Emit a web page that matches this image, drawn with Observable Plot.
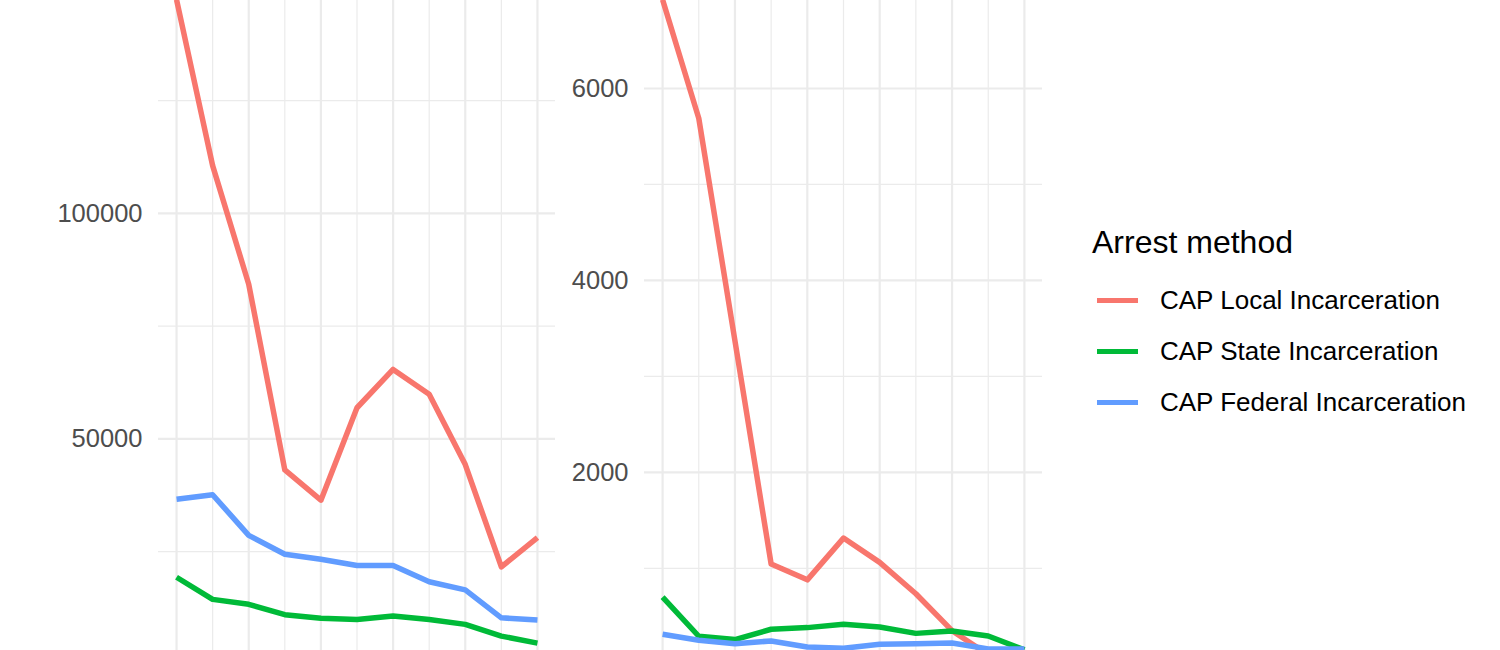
<!DOCTYPE html>
<html>
<head>
<meta charset="utf-8">
<script src="https://cdn.jsdelivr.net/npm/d3@7"></script>
<script src="https://cdn.jsdelivr.net/npm/@observablehq/plot@0.6"></script>
<style>
  html, body { margin: 0; padding: 0; background: #fff; overflow: hidden; }
  #chart { position: relative; width: 1500px; height: 650px; overflow: hidden;
           font-family: "Liberation Sans", Arial, Helvetica, sans-serif; }
  #chart svg { position: absolute; }
  .legend-title { position: absolute; left: 1092px; top: 224px; font-size: 32px; line-height: 36px; color: #000; white-space: nowrap; }
  .legend-row { position: absolute; left: 1097px; height: 30px; white-space: nowrap; }
  .legend-row .key { position: absolute; left: 0; top: 13px; width: 41px; height: 5px; }
  .legend-row .lab { position: absolute; left: 63px; top: 0; font-size: 26px; line-height: 30px; color: #000; }
</style>
</head>
<body>
<div id="chart"></div>
<script>
// x categories (years; their labels sit below the visible crop, so no x axis is drawn)
const years = [2010, 2011, 2012, 2013, 2014, 2015, 2016, 2017, 2018, 2019, 2020];

const methods = ["CAP Local Incarceration", "CAP State Incarceration", "CAP Federal Incarceration"];
const colors = ["#F8766D", "#00BA38", "#619CFF"];

// left panel
const leftLocal   = [147400, 110600, 84300, 43100, 36400, 56900, 65400, 59900, 44300, 21600, 28100];
const leftState   = [19300, 14400, 13300, 11000, 10200, 9950, 10700, 9950, 8850, 6250, 4700];
const leftFederal = [36600, 37600, 28600, 24400, 23300, 21900, 21900, 18300, 16500, 10300, 9800];
const leftTicks = [50000, 100000];
const leftGrid = [0, 50000, 100000, 150000];
const leftMinor = [25000, 75000, 125000];

// right panel
const rightLocal   = [6925, 5690, 3370, 1045, 880, 1315, 1062, 735, 350, 100, 40];
const rightState   = [700, 292, 257, 365, 382, 417, 389, 322, 347, 295, 150];
const rightFederal = [312, 250, 215, 243, 180, 167, 208, 215, 222, 160, 158];
const rightTicks = [2000, 4000, 6000];
const rightGrid = [0, 2000, 4000, 6000];
const rightMinor = [1000, 3000, 5000, 7000];

const toLong = (series) => series.flatMap((vals, i) =>
  vals.map((v, j) => ({year: years[j], value: v, method: methods[i]})));

const grey = "#EBEBEB";
const majorX = years.filter((_, i) => i % 2 === 0);
const minorX = years.filter((_, i) => i % 2 === 1);

function panel(series, ticks, grid, minor, opts) {
  const data = toLong(series);
  const maxV = d3.max(data, d => d.value);
  const pad = (years[years.length - 1] - years[0]) * 0.05;
  return Plot.plot({
    width: opts.width,
    height: 10 + 731 + 50,
    marginTop: 10,
    marginBottom: 50,
    marginLeft: opts.marginLeft,
    marginRight: 1,
    style: {fontFamily: "Liberation Sans, Arial, sans-serif", fontSize: "25.5px", background: "transparent", overflow: "visible"},
    x: {domain: [years[0] - pad, years[years.length - 1] + pad], axis: null},
    y: {domain: [-0.05 * maxV, 1.05 * maxV]},
    color: {domain: methods, range: colors},
    marks: [
      Plot.gridY(minor, {stroke: grey, strokeOpacity: 1, strokeWidth: 1.2}),
      Plot.gridX(minorX, {stroke: grey, strokeOpacity: 1, strokeWidth: 1.2}),
      Plot.gridY(grid, {stroke: grey, strokeOpacity: 1, strokeWidth: 2.2}),
      Plot.gridX(majorX, {stroke: grey, strokeOpacity: 1, strokeWidth: 2.2}),
      Plot.axisY(ticks, {tickSize: 0, tickPadding: 16, tickFormat: d => String(d), fill: "#4D4D4D", label: null}),
      Plot.line(data, {x: "year", y: "value", stroke: "method", z: "method",
        strokeWidth: 5.5, strokeLinecap: "butt", strokeLinejoin: "round"})
    ]
  });
}

const chart = document.getElementById("chart");

const left = panel([leftLocal, leftState, leftFederal], leftTicks, leftGrid, leftMinor,
  {width: 556, marginLeft: 158});
left.style.left = "0px";
left.style.top = "-44px";
chart.append(left);

const right = panel([rightLocal, rightState, rightFederal], rightTicks, rightGrid, rightMinor,
  {width: 483, marginLeft: 84});
right.style.left = "560px";
right.style.top = "-44px";
chart.append(right);

// legend
const title = document.createElement("div");
title.className = "legend-title";
title.textContent = "Arrest method";
chart.append(title);

const rowTops = [285, 336, 387];
methods.forEach((m, i) => {
  const row = document.createElement("div");
  row.className = "legend-row";
  row.style.top = rowTops[i] + "px";
  const key = document.createElement("div");
  key.className = "key";
  key.style.background = colors[i];
  const lab = document.createElement("div");
  lab.className = "lab";
  lab.textContent = m;
  row.append(key, lab);
  chart.append(row);
});
</script>
</body>
</html>
